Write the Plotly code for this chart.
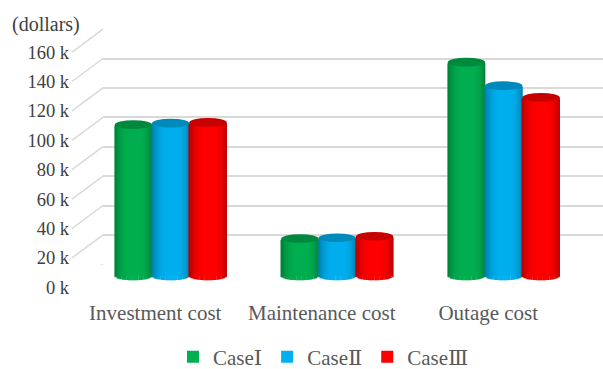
import math
import plotly.graph_objects as go

# ---------------- data ----------------
categories = ["Investment cost", "Maintenance cost", "Outage cost"]
case_names = ["CaseⅠ", "CaseⅡ", "CaseⅢ"]
case1 = [103, 25.5, 145.5]
case2 = [104, 26, 129.5]
case3 = [104.5, 27, 121.5]
tick_values = [0, 20, 40, 60, 80, 100, 120, 140, 160]
tick_labels = [f"{v} k" for v in tick_values]
unit_label = "(dollars)"

series = [case1, case2, case3]
colors = ["#00b050", "#00b0f0", "#ff0000"]

# ---------------- geometry (pixels) ----------------
W, H = 603, 369
PPK = 29.4 / 20.0            # pixels per 1k
BX0, BX1 = 103.0, 602.5      # back wall horizontal extent
BZ = 264.3                   # back wall zero line
BAR_DX, BAR_DY = -15.5, 11.7 # bar plane offset
LAB_DX, LAB_DY = -31.0, 23.0 # front (label) plane offset
BW = 37.3 / ((BX1 - BX0) / 3.0)  # bar width in category units
OFFS = [-1.5 * BW, -0.5 * BW, 0.5 * BW]
HC = 4.3                     # ellipse half height px
NSTRIP = 22                  # strips for the rounded bottom
NLEVEL = 16                  # nested shading layers for the body
SMIN = 0.72
TP = 0.55
FONT = "Liberation Serif, DejaVu Serif, serif"


def xdom(x0, x1):
    return [x0 / W, x1 / W]


def ydom(zero_px, lo, hi):
    bottom = zero_px - lo * PPK
    top = zero_px - hi * PPK
    return [(H - bottom) / H, (H - top) / H]


def hex2rgb(h):
    h = h.lstrip("#")
    return [int(h[i:i + 2], 16) for i in (0, 2, 4)]


def scale(hexc, s):
    r, g, b = hex2rgb(hexc)
    return "rgb(%d,%d,%d)" % tuple(max(0, min(255, round(c * s))) for c in (r, g, b))


def shade(t):
    u = t / TP if t < TP else (1 - t) / (1 - TP)
    return SMIN + (1 - SMIN) * (1 - (1 - u) ** 3)


def band(thr):
    q = (thr - SMIN) / (1 - SMIN)
    u = 1 - (1 - q) ** (1.0 / 3.0)
    return u * TP, 1 - u * (1 - TP)


fig = go.Figure()

# dummy traces to establish the back wall and label axes
fig.add_trace(go.Scatter(x=[0, 1, 2], y=case1, xaxis="x", yaxis="y", mode="markers",
                         marker=dict(opacity=0), showlegend=False, hoverinfo="skip"))
fig.add_trace(go.Scatter(x=categories, y=case1, xaxis="x3", yaxis="y3", mode="markers",
                         marker=dict(opacity=0), showlegend=False, hoverinfo="skip"))

# legend entries
for name, col in zip(case_names, colors):
    fig.add_trace(go.Bar(x=categories, y=[0, 0, 0], name=name,
                         marker=dict(color=col, line=dict(width=0)),
                         xaxis="x2", yaxis="y2", width=0.0001, hoverinfo="skip", showlegend=True))

shapes = []
for k, (vals, col) in enumerate(zip(series, colors)):
    # rounded bottom: thin strips following the lower half of the base ellipse
    for j in range(NSTRIP):
        t0 = j / NSTRIP
        tc = (j + 0.5) / NSTRIP
        hj = HC * math.sqrt(max(0.0, 1 - (2 * tc - 1) ** 2)) / PPK
        fig.add_trace(go.Bar(
            x=categories, y=vals, base=-hj,
            width=BW / NSTRIP * 1.1, offset=OFFS[k] + t0 * BW,
            marker=dict(color=scale(col, shade(tc)), line=dict(width=0)),
            xaxis="x2", yaxis="y2", showlegend=False, hoverinfo="skip"))
    # body: nested layers, darker/wider first, brighter/narrower on top
    for L in range(NLEVEL):
        thr = SMIN + (1 - SMIN) * L / NLEVEL
        tl, tr = band(thr)
        sc = SMIN + (1 - SMIN) * (L + 0.5) / NLEVEL
        fig.add_trace(go.Bar(
            x=categories, y=vals, base=0,
            width=(tr - tl) * BW, offset=OFFS[k] + tl * BW,
            marker=dict(color=scale(col, sc), line=dict(width=0)),
            xaxis="x2", yaxis="y2", showlegend=False, hoverinfo="skip"))
    # top cap
    for i, v in enumerate(vals):
        shapes.append(dict(type="circle", xref="x2", yref="y2",
                           x0=i + OFFS[k], x1=i + OFFS[k] + BW,
                           ysizemode="pixel", yanchor=v, y0=-HC, y1=HC,
                           fillcolor=scale(col, 0.78), line=dict(width=0), layer="above"))

# diagonal connectors from front labels to back wall grid
for v in tick_values:
    shapes.append(dict(type="line", xref="paper", yref="y",
                       x0=(BX0 + LAB_DX) / W, x1=BX0 / W,
                       ysizemode="pixel", yanchor=v, y0=-LAB_DY, y1=0,
                       line=dict(color="#d9d9d9", width=1.5), layer="above"))

hidden = dict(showticklabels=False, showgrid=False, zeroline=False, showline=False, ticks="",
              automargin=False)

fig.update_layout(
    template="none",
    width=W, height=H,
    margin=dict(l=0, r=0, t=0, b=0, pad=0, autoexpand=False),
    paper_bgcolor="white", plot_bgcolor="rgba(0,0,0,0)",
    barmode="overlay",
    font=dict(family=FONT, color="#404040"),
    xaxis=dict(domain=xdom(BX0, BX1), range=[-0.5, 2.5], anchor="y", **hidden),
    yaxis=dict(domain=ydom(BZ, -0.5, 160.5), range=[-0.5, 160.5], anchor="x",
               tickvals=tick_values, showticklabels=False, showgrid=True, automargin=False,
               gridcolor="#d9d9d9", gridwidth=1.5, zeroline=False, ticks="", showline=False),
    xaxis2=dict(domain=xdom(BX0 + BAR_DX, BX1 + BAR_DX), range=[-0.5, 2.5], anchor="y2", **hidden),
    yaxis2=dict(domain=ydom(BZ + BAR_DY, -10, 170), range=[-10, 170], anchor="x2", **hidden),
    xaxis3=dict(domain=xdom(BX0 + LAB_DX, BX1 + LAB_DX), range=[-0.5, 2.5], anchor="y3",
                showgrid=False, zeroline=False, showline=False, ticks="", ticklabelstandoff=10,
                automargin=False, tickfont=dict(family=FONT, size=21, color="#595959")),
    yaxis3=dict(domain=ydom(BZ + LAB_DY, -0.5, 160.5), range=[-0.5, 160.5], anchor="x3",
                tickvals=tick_values, ticktext=tick_labels, showgrid=False, zeroline=False,
                showline=False, ticks="", ticklabelstandoff=2, automargin=False,
                tickfont=dict(family=FONT, size=18.5, color="#404040")),
    shapes=shapes,
    showlegend=True,
    legend=dict(orientation="h", x=323.5 / W, xanchor="center", y=(H - 357) / H, yanchor="middle",
                xref="container", yref="container",
                font=dict(family=FONT, size=21, color="#595959"), itemwidth=30,
                bgcolor="rgba(0,0,0,0)", borderwidth=0),
    annotations=[dict(text=unit_label, xref="paper", yref="paper", x=10 / W, y=(H - 24) / H,
                      xanchor="left", yanchor="middle", showarrow=False,
                      font=dict(family=FONT, size=20, color="#404040"))],
)

fig.write_html("out.html")
